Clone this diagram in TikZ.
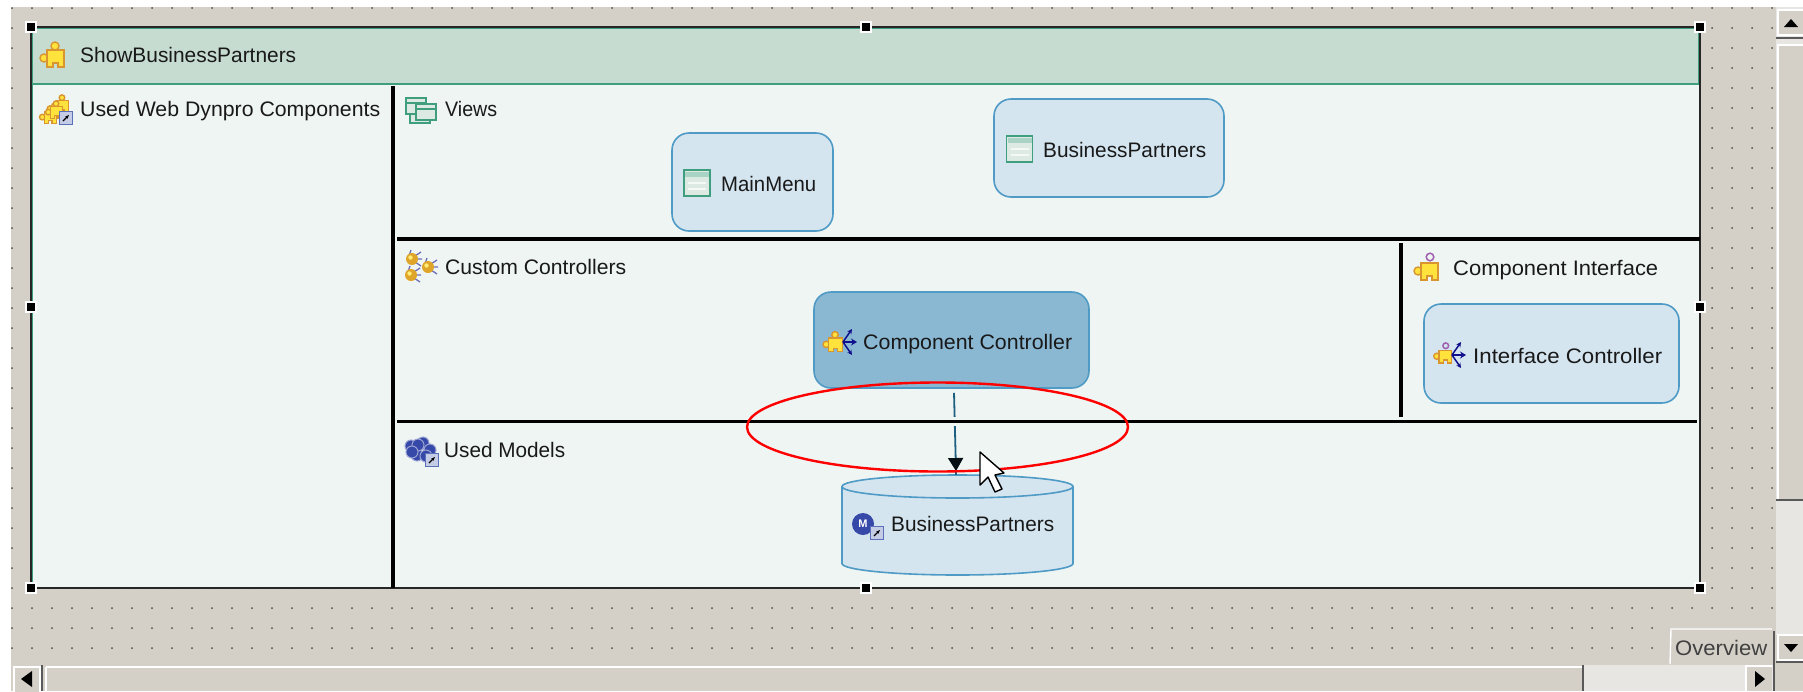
\documentclass[tikz,border=0pt]{standalone}
\usepackage{fontspec}
\usepackage{graphicx}
\setmainfont{Liberation Sans}
\usetikzlibrary{arrows.meta,shapes.geometric}
\definecolor{deskgray}{HTML}{D4D0C8}
\definecolor{tracklight}{HTML}{E8E6E2}
\definecolor{headgreen}{HTML}{C6DCD1}
\definecolor{bodytint}{HTML}{EFF5F3}
\definecolor{framegreen}{HTML}{3F9E7E}
\definecolor{boxblue}{HTML}{D4E5F0}
\definecolor{boxline}{HTML}{4F9BC6}
\definecolor{boxsel}{HTML}{8AB8D3}
\definecolor{linkblue}{HTML}{1D5F80}
\definecolor{puzzleyel}{HTML}{FFE23C}
\definecolor{puzzleedge}{HTML}{D9952F}
\definecolor{navyarrow}{HTML}{10108C}
\definecolor{ringpurple}{HTML}{A060B0}
\definecolor{badgeblue}{HTML}{5A70B8}
\definecolor{modelblue}{HTML}{3648A8}
\newcommand{\fitted}[2]{\resizebox{#1pt}{\height}{#2}}
\tikzset{
  paneltext/.style={anchor=base west,inner sep=0pt,font=\fontsize{21}{24}\selectfont,text=black!90},
  vbox/.style={draw=boxline,line width=1.6pt,fill=boxblue,rounded corners=17pt,inner sep=0pt},
  handle/.style={draw=white,line width=1.3pt,fill=black,minimum size=10pt,inner sep=0pt},
  seprule/.style={line width=3.6pt,black},
  griprule/.style={line width=2pt,black!65},
  btn/.style={draw=white,line width=1.2pt,fill=deskgray},
  thinarrow/.style={line width=1.5pt,navyarrow},
  % window icon with a title bar
  winicon/.pic={
    \draw[line width=1.6pt,draw=framegreen,fill=headgreen!60!white] (-13,-13) rectangle (13,13);
    \fill[framegreen!45!white] (-12,-11) rectangle (12,-6);
    \fill[white!80!headgreen] (-9,-1) rectangle (9,1);
    \fill[white!80!headgreen] (-9,5) rectangle (9,7);
  },
  smallwin/.pic={
    \draw[line width=1.4pt,draw=framegreen,fill=headgreen!60!white] (-10,-8) rectangle (10,8);
    \draw[line width=1.4pt,framegreen] (-10,-3) -- (10,-3);
  },
  % puzzle piece, origin in its middle
  puzzle/.pic={
    \filldraw[line width=1.4pt,draw=puzzleedge,fill=puzzleyel] (0,-9) circle (4);
    \filldraw[line width=1.4pt,draw=puzzleedge,fill=puzzleyel] (-11,3) circle (4);
    \filldraw[line width=1.4pt,draw=puzzleedge,fill=puzzleyel] (-8,-5) -- (9,-5) -- (9,12) -- (3,12) -- (3,8) -- (-2,8) -- (-2,12) -- (-8,12) -- cycle;
  },
  keypuzzle/.pic={
    \draw[line width=1.5pt,ringpurple] (1,-11) circle (3.8);
    \filldraw[line width=1.4pt,draw=puzzleedge,fill=puzzleyel] (-11,3) circle (4);
    \filldraw[line width=1.4pt,draw=puzzleedge,fill=puzzleyel] (-8,-5) -- (9,-5) -- (9,12) -- (3,12) -- (3,8) -- (-2,8) -- (-2,12) -- (-8,12) -- cycle;
  },
  spread/.pic={
    \draw[thinarrow,-{Stealth[length=6pt,width=7pt]}] (0,0) -- (14,0);
    \draw[thinarrow,-{Stealth[length=5pt,width=5pt]}] (0,0) -- (9,-13);
    \draw[thinarrow,-{Stealth[length=5pt,width=5pt]}] (0,0) -- (9,13);
  },
  ball/.pic={
    \draw[line width=1.3pt,navyarrow!60!white] (3,-3) -- (9,-7) (5,0) -- (10,0) (3,3) -- (9,7) (-3,-3) -- (-1,-9);
    \fill[puzzleedge!85!yellow] (0,0) circle (6);
    \fill[puzzleyel!70!white] (-1.5,-1.5) circle (2.2);
  },
  badge/.pic={
    \draw[line width=1.2pt,draw=badgeblue,fill=white!65!badgeblue] (-6.5,-6.5) rectangle (6.5,6.5);
    \draw[line width=1.2pt,black,-{Stealth[length=4pt]}] (-3,3) -- (3,-3);
  },
}
\begin{document}
\begin{tikzpicture}[x=1pt,y=-1pt]
\useasboundingbox (0,0) rectangle (1803,691);
\fill[white] (0,0) rectangle (1803,691);
\fill[deskgray] (11,7) rectangle (1803,691);
% scrollbar tracks
\fill[tracklight] (1776,7) rectangle (1803,635);
\fill[deskgray] (1778,45) rectangle (1803,499);
\draw[white,line width=1.2pt] (1778,499) -- (1778,45) -- (1803,45);
\draw[griprule] (1776,500) -- (1803,500);
\draw[griprule] (1776,38) -- (1803,38);
% grid of dots
\foreach \y in {8,28,...,628} \foreach \x in {12,32,...,1772} \fill[black!70] (\x,\y) circle (1);
\foreach \x in {12,32,...,1652} \fill[black!70] (\x,648) circle (1);
% frame
\fill[bodytint] (31,84) rectangle (1700,588);
\fill[headgreen] (31,27) rectangle (1700,84);
\draw[framegreen,line width=2pt] (31,84) -- (1700,84);
\draw[black!85,line width=2pt] (31,588) -- (1700,588) -- (1700,27) -- (31,27);
\draw[black!85,line width=2pt] (30.5,27) -- (30.5,588);
\draw[framegreen,line width=1.5pt] (32.5,28) -- (32.5,587);
\draw[framegreen,line width=1.5pt] (32,28.5) -- (1698.5,28.5) -- (1698.5,84);
% boxes
\node[vbox,minimum width=161pt,minimum height=98pt] (mainmenu) at (752.5,182) {};
\node[vbox,minimum width=230pt,minimum height=98pt] (partnersview) at (1109,148) {};
\node[vbox,fill=boxsel,minimum width=275pt,minimum height=96pt] (compctrl) at (951.5,340) {};
\node[vbox,minimum width=255pt,minimum height=99pt] (ifacectrl) at (1551.5,353.5) {};
\node[minimum width=231pt,minimum height=100pt,inner sep=0pt] (modelcyl) at (957.5,525) {};
\draw[draw=boxline,line width=1.6pt,fill=boxblue] (842,486.5) arc[start angle=180,end angle=360,x radius=115.5,y radius=11.5] -- (1073,563.5) arc[start angle=0,end angle=180,x radius=115.5,y radius=11.5] -- cycle;
\draw[draw=boxline,line width=1.6pt] (842,486.5) arc[start angle=180,end angle=0,x radius=115.5,y radius=11.5];
% connector
\coordinate (arrowtip) at (956,471);
\draw[linkblue,line width=1.8pt,-{Triangle[length=13pt,width=15pt,black!85!linkblue]}] ([xshift=2.5pt,yshift=-4pt]compctrl.south) -- (arrowtip);
\draw[linkblue,line width=1.8pt] (arrowtip) -- (modelcyl.north -| arrowtip);
% separators
\draw[seprule] (393,86) -- (393,588);
\draw[seprule] (397,239) -- (1700,239);
\draw[seprule,preaction={draw=bodytint,line width=9pt}] (397,421.5) -- (1697,421.5);
\draw[seprule] (1401,243) -- (1401,417);
% labels
\node[paneltext] (titletext) at (80,62.5) {\fitted{216}{ShowBusinessPartners}};
\node[paneltext] (usedcomp) at (80,116.5) {\fitted{300}{Used Web Dynpro Components}};
\node[paneltext] (viewstext) at (445,116) {\fitted{52}{Views}};
\node[paneltext] (menutext) at (721,191) {\fitted{95}{MainMenu}};
\node[paneltext] (partnerstext) at (1043,157) {\fitted{163}{BusinessPartners}};
\node[paneltext] (customtext) at (445,274) {\fitted{181}{Custom Controllers}};
\node[paneltext] (ctrltext) at (863,349) {\fitted{209}{Component Controller}};
\node[paneltext] (ifacetext) at (1453,275) {\fitted{205}{Component Interface}};
\node[paneltext] (ifctrltext) at (1473,363) {\fitted{189}{Interface Controller}};
\node[paneltext] (modelstext) at (444,457) {\fitted{121}{Used Models}};
\node[paneltext] (modeltext) at (891,531) {\fitted{163}{BusinessPartners}};
% icons
\pic at (55,55) {puzzle};
\pic[scale=.7] at (50,115) {puzzle};
\pic[scale=.7] at (62,104) {puzzle};
\pic[scale=.7] at (56,110) {puzzle};
\pic at (66,118) {badge};
\pic at (420,115) {smallwin};
\pic at (416,106) {smallwin};
\pic at (426,112) {smallwin};
\pic at (697,183) {winicon};
\pic at (1019.5,149) {winicon};
\pic at (412,259) {ball};
\pic at (428,267) {ball};
\pic at (411,275) {ball};
\pic at (1429,268) {keypuzzle};
\pic[scale=.8] at (835,342) {puzzle};
\pic at (843,342) {spread};
\pic[scale=.75] at (1445,354) {keypuzzle};
\pic at (1452,355) {spread};
\foreach \a/\b in {411/446,423/443,417/455,430/450,418/445,426/456,412/452} \filldraw[draw=white!50!modelblue,line width=1pt,fill=modelblue] (\a,\b) circle (6);
\pic at (432,460) {badge};
\node[circle,fill=modelblue,minimum size=22pt,inner sep=0pt,text=white,font=\fontsize{11}{12}\selectfont\bfseries] (modelmark) at (863,524) {M};
\pic at (877,533) {badge};
% rubber band and pointer
\node[ellipse,draw=red,line width=2.4pt,minimum width=381pt,minimum height=89pt,inner sep=0pt] (ring) at (937.5,427) {};
\draw[black,line width=1.4pt,fill=white,line join=round] (980,452) -- (980,485) -- (988,477) -- (995,492) -- (1002,489) -- (995,475) -- (1004,473) -- cycle;
% handles
\node[handle] (hnw) at (31,27) {};
\node[handle] (hn) at (866,27) {};
\node[handle] (hne) at (1700,27) {};
\node[handle] (hw) at (31,307) {};
\node[handle] (he) at (1700,307) {};
\node[handle] (hsw) at (31,588) {};
\node[handle] (hs) at (866,588) {};
\node[handle] (hse) at (1700,588) {};
% bottom scrollbar
\fill[deskgray] (11,665) rectangle (1803,691);
\draw[white,line width=1.2pt] (46,667) -- (1582,667);
\draw[white,line width=1.2pt] (46,691) -- (46,667);
\fill[tracklight] (1584,665) rectangle (1774,691);
\draw[btn] (14,667) rectangle (40,695);
\draw[griprule] (41.5,665) -- (41.5,691);
\draw[griprule] (1582.5,665) -- (1582.5,691);
\draw[draw=none,fill=deskgray] (1746,666) rectangle (1772,691);
\draw[white,line width=1.2pt] (1746,691) -- (1746,666) -- (1772,666);
\draw[griprule] (1774,663) -- (1774,691);
\fill[black] (32,671) -- (32,687) -- (21,679) -- cycle;
\fill[black] (1755,671) -- (1755,687) -- (1765,679) -- cycle;
% overview tab
\fill[deskgray] (1671,627) rectangle (1774,665);
\draw[white,line width=1.4pt] (1670,664) -- (1671,629) -- (1772,629);
\draw[griprule] (1774,631) -- (1774,665);
\node[paneltext,text=black!75] (overviewtext) at (1675,655) {\fitted{92}{Overview}};
% vertical scrollbar buttons
\draw[btn] (1778,10) rectangle (1806,35);
\fill[black] (1784,27) -- (1798,27) -- (1791,19) -- cycle;
\draw[btn] (1778,635) rectangle (1806,660);
\draw[griprule] (1776,662) -- (1803,662);
\fill[black] (1784,644) -- (1798,644) -- (1791,652) -- cycle;
\end{tikzpicture}
\end{document}
